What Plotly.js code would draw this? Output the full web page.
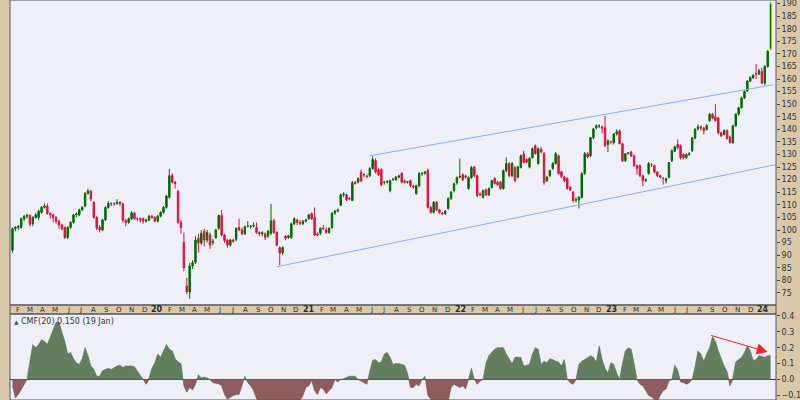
<!DOCTYPE html>
<html><head><meta charset="utf-8">
<script src="https://cdn.plot.ly/plotly-3.0.1.min.js"></script>
<style>html,body{margin:0;padding:0;background:#d9c9aa;}#chart{width:800px;height:400px;}</style>
</head><body><div id="chart"></div>
<script>
// Weekly bars starting 2019-01-18
const firstWeek = '2019-01-18';
const open = [92,100.5,101,101,104.5,105.5,105.8,102.5,105,105,
107,109,109.5,106.6,106,105,103.5,102,101,97,
101,103,106,106,108,109.5,114.6,115.5,111,105,
101,100,104,108.9,110.6,110.5,110.5,111,110.4,103.8,
103,104.5,106.8,104.5,104.5,104.5,103.5,104,105.5,105,
103.5,105.5,107,109,113,121.6,119,115.3,103,95,
77.7,75.4,85.7,87.2,96.7,94.8,99.5,96,98,95,
97,100.7,105.8,98,96,94,96,96.3,101,100,
98.5,101.5,101.5,101.5,101,99,98.5,98.5,97.5,98.7,
103.7,99,93,91,97.5,97,97,102.5,104,103,
102.5,103.5,104.5,106.5,105,98.5,98.7,100.7,100,99,
101,106.7,107.5,109.8,114,114,112.5,111.7,119,119,
123,122,121.5,121.6,124.4,127.6,124,124,119,119,
115.7,120,120,121,122.6,119.5,119,119.6,117.5,114.5,
117.6,122.4,122.5,123.6,109,107,111,108,106.8,106.5,
108.6,112.5,115.7,118.8,121,122,121.5,116.5,120.8,125,
121.6,114.3,113,116,114,116.9,120.5,119,119,116.5,
123.6,126.4,121.6,124.8,121,124.8,130.3,128,125,128.7,
133.5,126.4,132,130.3,119.6,121.6,124.4,126.4,129.5,123.2,
121,120.4,117,115,112,112,112.9,122.4,130.3,129.5,
136.7,140.6,141.4,141,140.6,134,135,134.7,138.2,139.4,
134.3,127.5,130.3,131,129.5,125.6,125.6,121.6,119.6,122.4,
126,125.6,123,121.6,120.5,119.6,121,127.5,131.3,134,
133.5,130,128.7,130,131.5,136.6,140.2,141,140.5,140,
143.4,146,145,144.5,138.6,138,139.5,137,134.7,141.4,
146,148.6,152.5,155.2,159.2,160.5,162.3,162,163,158.4,
165,172];
const high = [101,101.5,102,105,106,106.5,106.3,105.5,106.8,108,
109.5,110.5,110.5,107,106.5,105.5,104,102.5,101.5,101.5,
103.5,106.5,107,108.5,109.5,115,116.5,116,111.5,105.5,
102,104.5,109.5,111.5,111,111,112.3,111.5,110.8,104.5,
105,107.5,107,105,105,105,104.5,106,106,105.5,
106,107.5,109.5,114,124.3,122.5,119.5,116,104,99,
81,87,88,97.5,98.5,100,100.5,100,99,96.5,
100.5,106,108,98.5,96.5,96.5,96.5,101,104.5,101,
101.8,103.5,102,103,103,99.5,99.5,99,100,110.4,
104.5,99.5,93.5,93.5,98,98,103,105,104.5,104,
104,104.5,106.5,107,109,99,101,102,101,101,
107,108,108.5,114.5,115,114.5,113,119.5,119.5,121,
124,122.5,122,125,129.3,128.5,124.5,124.5,119.5,119.8,
120,120.5,121.5,122,123,120,119.5,120,118,118,
123,123,123.5,124.5,109.5,111.5,111.5,108.5,107.2,108,
113,115.5,118.8,121.3,128.4,122.5,122,121.3,125.5,125.5,
122,115,116,116.5,117,120,121,119.5,119.5,124,
128.8,127,127,125.5,125.5,130,131.5,128.5,129,132.8,
134,132.8,133,131,121.5,124,127,131,130,123.5,
121.5,121,117.5,115.5,113,113.5,123,131,131,137,
140.5,142,142,141.5,145.3,136,135.5,138.5,140,140,
134.5,130.5,131,131.5,130,126,126,122,120.5,127,
126.5,126,123.5,122,121,120.8,127,132,133.5,136,
134,130.5,130.5,131,137,140.5,142,141.5,141,142,
146.5,146.5,150,145,139,140,140,137.5,141.8,146.3,
149,153,155.5,159.5,161,162,166,164,164.5,165.5,
171.5,190.5];
const low = [91,99.5,100,100.5,103.5,104.5,101.5,101.5,104.5,104,
106.5,108.5,106,104.5,103,102.5,100.5,100,96.5,96.5,
100.5,102.5,105,105.5,107.5,109,114,111.5,104.5,100,
99,99.5,103.5,108.5,109.5,109.5,110,109.5,103,101.5,
102.5,104,104,103.5,103,102.5,103,103.5,104.5,103,
103,105,106.5,108.5,112.5,118.5,116.5,102.5,98.5,83.5,
74.5,72.7,84.5,86.5,91,94,93.5,95,92.5,94,
96.5,100,97.5,95,93,93.5,95,95.5,99.5,98,
98,101,100.5,101,98.5,97.5,97.5,96,97,98,
98.5,93.5,86,90,96,96.5,96.5,102,102,102,
102,103,104,104,97.5,97.5,98,100,98.5,98.5,
100.5,106,107,109.5,113,111.5,112,111.5,118,118.5,
119,121,120.5,121,124,122.5,121.5,117.5,118,118.5,
115,119.5,119.5,120.5,118.5,118.5,118.5,117,116.5,114,
117,121.5,122,108.5,106.5,106.5,107.5,106.5,106,106,
108,112,115,118,120.5,119.5,120.5,116,120.3,121,
113,113.5,112.5,113.5,113.5,116.5,118,117.5,116,116,
123,121,121,119,120.5,124.5,126.5,126.5,124.5,128.5,
130,126,130.5,118,119,121,124,126,122,120.5,
119,116,115.5,111,111,108.6,112.5,122,128.5,129,
136,140,140.5,138.5,133,131,134,134,137.5,134,
127,127,130,129,125,122,121,117.5,119,122,
125,122.5,121,120.5,118,118.5,120.5,127,131,132,
128,128,128.3,129.5,131,136,139.5,139.5,138,139.5,
143,144,143,138,137,137.5,136,134.5,134.3,141,
145.5,148.3,152,155,158.8,160,160,161.5,158,157.5,
164.5,171.5];
const close = [100.5,101,101.5,104.5,105.5,105.8,102.3,105,106,107.5,
109,109.5,106.6,106,105,103.5,102,100.5,97,101,
103,106,106.3,108,109,114.6,115.5,112.4,105,100.7,
100,104,108.9,110.6,110.5,110.5,111,110.5,103.8,103,
104.5,106.8,104.5,104.5,104,103.5,104,105.5,105,103.5,
105.5,107,109,113.5,121.6,119,118.5,103,101,85,
75.4,85.7,87,96,94.8,98.7,96,99,94,95.5,
100,105.8,98,95.8,94,96,95.5,100.7,100,98.5,
101.3,101.5,101.5,101.8,99,98.5,99,97,99.5,103.7,
99,94,90.8,93,96.7,97.7,102.5,104.5,103,102.8,
103.5,104,106,104.5,98,98,100.7,100.5,99,100.7,
106.7,107.5,108,114,114.3,112,112.3,118.8,118.5,120.4,
119.5,122,121.3,124.4,128,123,122,118,119,119.3,
119.6,120.2,121,121.5,119,119,119.2,117.7,117,117.6,
122.4,122.5,123,109,107,111,108,107,106.5,107.5,
112.5,115,118.4,120.8,121.3,120,121,120.8,124.8,121.6,
113.7,114,115.7,114,116.4,119.6,118.5,118,116.5,123.6,
126.4,121.6,126.4,119.6,125,129.5,126.8,127,128.5,132.3,
130.3,132.3,131,118.9,121,123.6,126.4,130.3,122.4,121.2,
119.6,116.5,116,111.7,112,113,122.4,130.3,129,136.7,
140.2,141.4,141.4,140.5,133.5,135.5,135,138.2,139,134.3,
127.5,130.3,130.7,129.5,125.6,124.5,121.6,119.6,120,126.4,
126,123,121.6,121,120.5,120.4,126.8,131.5,133,132.7,
128.7,128.7,130,130.3,136.6,140,141,140.5,139.5,141.5,
146,144.5,143.5,138.6,137.4,139.5,136.3,134.7,141.4,146,
148.6,152.5,155,159.2,160.7,161.5,162,163.3,158.4,165,
171,190];
// Chaikin Money Flow (20), one value per week
const cmf = [-0.04,-0.115,-0.095,-0.06,-0.03,0.0,0.115,0.22,0.2,0.22,
0.25,0.24,0.22,0.27,0.31,0.36,0.36,0.3,0.24,0.16,
0.17,0.13,0.105,0.095,0.13,0.2,0.15,0.085,0.065,0.02,
0.02,0.055,0.065,0.07,0.063,0.075,0.085,0.09,0.075,0.085,
0.085,0.085,0.08,0.055,0.03,0.0,-0.03,0.01,0.07,0.105,
0.16,0.14,0.18,0.22,0.19,0.18,0.13,0.11,0.1,-0.04,
-0.08,-0.05,-0.065,-0.03,0.03,0.01,0.015,0.01,0.0,-0.02,
-0.025,-0.027,-0.04,-0.095,-0.125,-0.11,-0.1,-0.095,-0.095,-0.04,
0.02,-0.02,-0.04,-0.07,-0.12,-0.14,-0.15,-0.17,-0.18,-0.2,
-0.21,-0.2,-0.19,-0.2,-0.18,-0.17,-0.16,-0.15,-0.14,-0.13,
-0.1,-0.05,-0.04,-0.006,-0.07,-0.095,-0.05,-0.06,-0.09,-0.07,
-0.05,0.0,-0.015,0.0,0.005,0.015,0.02,0.02,0.02,0.0,
-0.01,-0.02,-0.03,0.05,0.12,0.125,0.105,0.11,0.16,0.17,
0.14,0.095,0.1,0.1,0.095,0.09,0.04,-0.05,-0.05,-0.03,
-0.04,0.0,0.02,-0.1,-0.125,-0.15,-0.17,-0.18,-0.17,-0.16,
-0.14,-0.05,-0.03,-0.04,-0.05,-0.04,-0.06,0.0,0.07,0.0,
-0.03,-0.01,0.0,0.1,0.15,0.17,0.19,0.2,0.2,0.2,
0.16,0.13,0.1,0.14,0.14,0.14,0.085,0.09,0.095,0.16,
0.2,0.19,0.095,0.115,0.105,0.13,0.125,0.115,0.11,0.085,
0.125,0.0,-0.02,-0.03,0.0,0.095,0.115,0.125,0.135,0.15,
0.14,0.11,0.21,0.125,0.07,0.04,0.105,0.095,0.04,0.0,
0.1,0.18,0.2,0.19,0.1,0.0,-0.03,-0.04,-0.07,-0.1,
-0.11,-0.125,-0.14,-0.1,-0.07,-0.06,-0.01,0.0,0.09,0.06,
-0.015,-0.02,-0.03,-0.02,0.0,0.08,0.18,0.16,0.115,0.16,
0.2,0.27,0.24,0.18,0.13,0.085,0.05,-0.04,0.01,0.11,
0.125,0.14,0.17,0.21,0.18,0.12,0.125,0.15,0.145,0.14,
0.15,0.15];
const monthLetters = ['J','F','M','A','M','J','J','A','S','O','N','D'];
const channelUpperDates = ['2021-05-28','2024-01-25'];
const channelUpperPrices = [129.5, 157.7];
const channelLowerDates = ['2020-10-16','2024-02-01'];
const channelLowerPrices = [85.4, 126.0];
const cmfArrowFrom = {date:'2023-08-25', value:0.28};
const cmfArrowTo = {date:'2024-01-12', value:0.173};
const cmfLabel = 'CMF(20) 0.150 (19 Jan)';

const WEEK = 7*86400000;
const START = Date.parse(firstWeek+'T00:00:00Z');
function fmt(ms){ return new Date(ms).toISOString().replace('T',' ').slice(0,19); }
const dates = open.map((_, i) => fmt(START + i*WEEK));
const last = open.length - 1;
const lastMs = START + last*WEEK;

// CMF split into positive / negative areas with zero crossings
const cx = [], cv = [];
for (let i = 0; i < cmf.length; i++) {
  const t = START + i*WEEK;
  if (i > 0 && cmf[i-1]*cmf[i] < 0) {
    const f = cmf[i-1]/(cmf[i-1]-cmf[i]);
    cx.push(fmt(t - WEEK + f*WEEK)); cv.push(0);
  }
  cx.push(fmt(t)); cv.push(cmf[i]);
}
const posY = cv.map(v => Math.max(v, 0));
const negY = cv.map(v => Math.min(v, 0));

const px = v => v/800, py = v => 1 - v/400;

const monthAnn = [];
for (let y = 2019; y <= 2024; y++) for (let m = 0; m < 12; m++) {
  const d = Date.UTC(y, m, 1);
  if (d < Date.UTC(2019,1,1) || d > Date.UTC(2024,0,1)) continue;
  monthAnn.push({xref:'x', yref:'paper', x:fmt(d), y:py(309.8), xanchor:'center', yanchor:'middle',
    showarrow:false, text: m === 0 ? '<b>' + String(y).slice(2) + '</b>' : monthLetters[m],
    font:{size: m === 0 ? 8 : 7, color:'#2a2a2a'}});
}

const GREEN = '#006a00', RED = '#e0103c';
const traces = [
  {type:'candlestick', x:dates, open:open, high:high, low:low, close:close,
   xaxis:'x', yaxis:'y', hoverinfo:'skip',
   increasing:{line:{color:GREEN, width:1}, fillcolor:GREEN},
   decreasing:{line:{color:RED, width:1}, fillcolor:RED}},
  {type:'scatter', mode:'lines', x:channelUpperDates, y:channelUpperPrices, xaxis:'x', yaxis:'y',
   line:{color:'#86aef0', width:1}, hoverinfo:'skip'},
  {type:'scatter', mode:'lines', x:channelLowerDates, y:channelLowerPrices, xaxis:'x', yaxis:'y',
   line:{color:'#86aef0', width:1}, hoverinfo:'skip'},
  {type:'scatter', mode:'lines', x:cx, y:posY, xaxis:'x', yaxis:'y2', fill:'tozeroy',
   fillcolor:'#627e5e', line:{color:'#55704f', width:0.6}, hoverinfo:'skip'},
  {type:'scatter', mode:'lines', x:cx, y:negY, xaxis:'x', yaxis:'y2', fill:'tozeroy',
   fillcolor:'#8e5c5c', line:{color:'#7e4e4e', width:0.6}, hoverinfo:'skip'}
];

const layout = {
  width:800, height:400, margin:{l:0,r:0,t:0,b:0},
  paper_bgcolor:'#d9c9aa', plot_bgcolor:'#eff0f7', showlegend:false,
  font:{family:'DejaVu Sans, sans-serif', size:8, color:'#333'},
  xaxis:{type:'date', domain:[px(10), px(776)], range:['2019-01-12','2024-02-01'], anchor:'y',
    rangeslider:{visible:false}, showticklabels:false, ticks:'',
    showgrid:false, zeroline:false, showline:false, fixedrange:true},
  yaxis:{domain:[py(305), 1], range:[70.2, 191.4], side:'right', anchor:'x',
    tickmode:'linear', tick0:75, dtick:5, ticks:'outside', ticklen:3, tickcolor:'#444',
    ticklabeloverflow:'allow',
    tickfont:{size:8, color:'#333'}, showgrid:false, zeroline:false, showline:false, fixedrange:true},
  yaxis2:{domain:[0, py(314)], range:[-0.129, 0.412], side:'right', anchor:'x',
    tickmode:'linear', tick0:0, dtick:0.1, tickformat:'.1f', ticks:'outside', ticklen:3, tickcolor:'#444',
    ticklabeloverflow:'allow',
    tickfont:{size:8, color:'#333'}, showgrid:false, zeroline:true, zerolinecolor:'#333', zerolinewidth:1,
    showline:false, fixedrange:true},
  shapes:[
    {type:'rect', xref:'paper', yref:'paper', x0:px(10), x1:px(776), y0:py(305), y1:py(0), line:{color:'#555', width:1}},
    {type:'rect', xref:'paper', yref:'paper', x0:px(10), x1:px(776), y0:py(314), y1:py(305), line:{color:'#555', width:1}},
    {type:'rect', xref:'paper', yref:'paper', x0:px(10), x1:px(776), y0:py(400), y1:py(314), line:{color:'#555', width:1}},
    {type:'rect', xref:'x', yref:'y', layer:'above', x0:fmt(lastMs - 0.4*WEEK), x1:fmt(lastMs + 0.4*WEEK),
     y0:open[last], y1:close[last], line:{color:'#e8e800', width:1}, fillcolor:GREEN}
  ],
  annotations:[
    {xref:'paper', yref:'paper', x:px(12), y:py(321), xanchor:'left', yanchor:'middle', showarrow:false,
     text:'▲', font:{size:6, color:'#3d6b3a'}},
    {xref:'paper', yref:'paper', x:px(19), y:py(321), xanchor:'left', yanchor:'middle', showarrow:false,
     text:cmfLabel, font:{size:8, color:'#333'}},
    {xref:'x', yref:'y2', x:cmfArrowTo.date, y:cmfArrowTo.value, axref:'x', ayref:'y2',
     ax:cmfArrowFrom.date, ay:cmfArrowFrom.value, text:'', showarrow:true,
     arrowhead:2, arrowsize:2.2, arrowwidth:1, arrowcolor:'#ff2020'}
  ].concat(monthAnn)
};
Plotly.newPlot('chart', traces, layout, {staticPlot:true, displayModeBar:false});
</script></body></html>
